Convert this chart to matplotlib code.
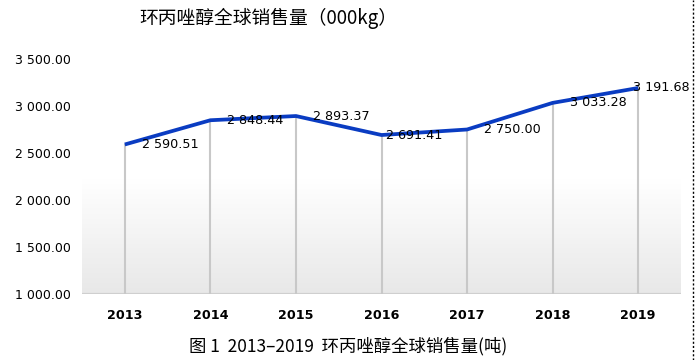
import matplotlib
matplotlib.use("Agg")
import matplotlib.pyplot as plt
import numpy as np
from matplotlib.lines import Line2D

years = ["2013", "2014", "2015", "2016", "2017", "2018", "2019"]
sales = [2590.51, 2848.44, 2893.37, 2691.41, 2750.00, 3033.28, 3191.68]
yticks = [1000, 1500, 2000, 2500, 3000, 3500]
title = "环丙唑醇全球销售量（000kg）"
caption = "图 1  2013–2019  环丙唑醇全球销售量(吨)"

def fmt(v):
    s = f"{v:,.2f}"
    return s.replace(",", " ")

label_dx = [17, 17, 17, 5, 17, 17, -5]  # pixel offsets of data labels

plt.rcParams['font.family'] = ['DejaVu Sans', 'Noto Sans CJK SC']

fig = plt.figure(figsize=(6.96, 3.6), dpi=100)
ax = fig.add_axes([82/696, 1-294/360, (681-82)/696, (294-59)/360])

x = np.arange(len(years))
ax.set_xlim(-0.5, len(years)-0.5)
ax.set_ylim(1000, 3500)

# floor gradient
grad = np.linspace(1, 0, 100).reshape(-1, 1)
cmap = matplotlib.colors.LinearSegmentedColormap.from_list("g", ["#ffffff", "#e8e8e8"])
ax.imshow(grad, extent=(-0.5, len(years)-0.5, 1000, 2230), aspect='auto',
          cmap=cmap, vmin=0, vmax=1, origin='lower', zorder=0)
ax.axhline(1000, color="#cfcfcf", lw=1.6, zorder=1)

# drop lines
ax.vlines(x, 1000, sales, colors="#c8c8c8", lw=1.5, zorder=2)
ax.plot(x, sales, color="#0A3CC2", lw=2.7, solid_capstyle='butt', zorder=3)

for xi, v, dx in zip(x, sales, label_dx):
    ax.annotate(fmt(v), (xi, v), xytext=(dx, 0), textcoords='offset pixels',
                ha='left', va='center', fontsize=9.2, color='black', zorder=4)

ax.set_xticks(x)
ax.set_xticklabels(years, fontweight='bold', fontsize=9.2)
ax.set_yticks(yticks)
ax.set_yticklabels([fmt(v) for v in yticks], fontsize=9.0)
ax.tick_params(axis='both', length=0)
ax.tick_params(axis='x', pad=11)
ax.tick_params(axis='y', pad=8)
for s in ax.spines.values():
    s.set_visible(False)

fig.text(268/696, 1-18/360, title, ha='center', va='center', fontsize=13.5,
         family=['Noto Sans CJK SC', 'DejaVu Sans'])
fig.text(348/696, 1-346/360, caption, ha='center', va='center', fontsize=12.5,
         family=['Noto Sans CJK SC', 'DejaVu Sans'])

fig.add_artist(Line2D([693/696, 693/696], [0, 1], transform=fig.transFigure,
                      color='black', lw=1, ls=(0, (1.5, 1.5))))

fig.savefig("out.png", dpi=100)
